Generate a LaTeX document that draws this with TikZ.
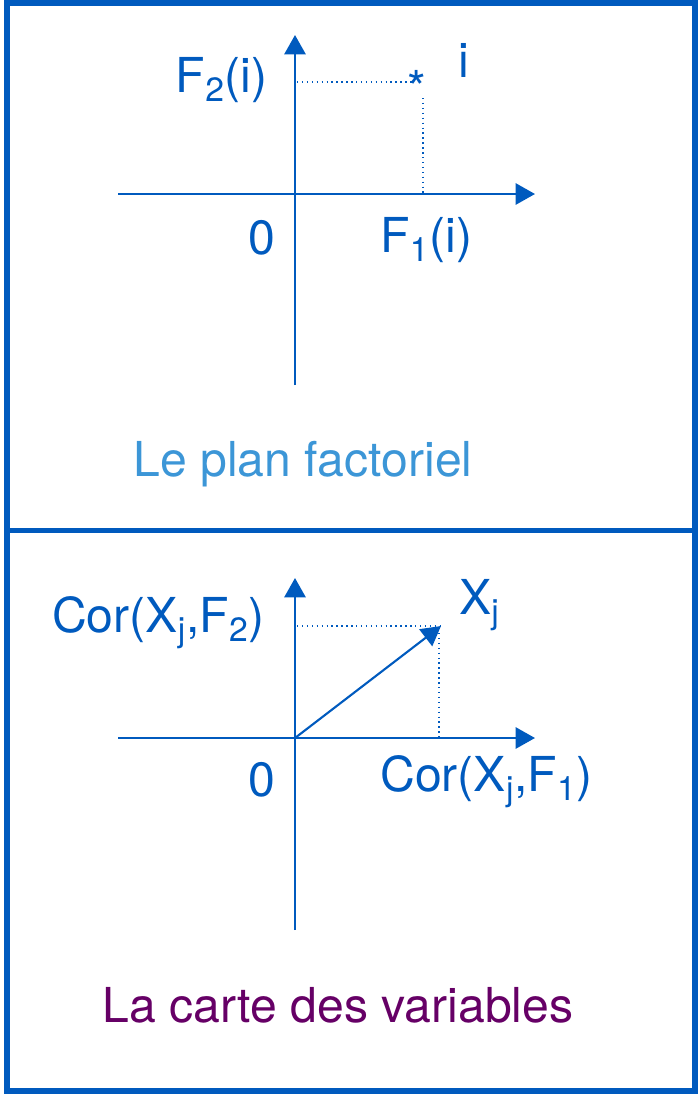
\documentclass[tikz,border=0pt]{standalone}
\usepackage{fontspec}
\setmainfont{TeX Gyre Heros}
\usetikzlibrary{arrows.meta}
\definecolor{fg}{RGB}{0,90,190}
\definecolor{titlea}{RGB}{60,150,215}
\definecolor{titleb}{RGB}{102,0,102}
\tikzset{
  frame/.style={draw=fg, line width=3.1pt},
  axis/.style={draw=fg, line width=1.4pt, -{Triangle[length=11pt,width=12pt]}},
  proj/.style={draw=fg, line width=0.8pt, dotted},
  lbl/.style={text=fg, font=\fontsize{27.4}{32}\selectfont, inner sep=0pt},
}

\begin{document}
\begin{tikzpicture}[x=0.02cm,y=-0.02cm]
        \useasboundingbox (0,0) rectangle (698,1096);
        \draw[frame] (7,3) rectangle (695,530.5);
        \draw[frame] (7,530.5) rectangle (695,1091);

        % le plan factoriel
        \coordinate (o1) at (295,194);
        \draw[axis] (295,385) -- (295,35);
        \draw[axis] (118,194) -- (535,194);
        \coordinate (pi) at (412,82);
        \node[lbl] (star) at (417,88) {*};
        \draw[proj] (297,82) -- (pi);
        \draw[proj] (423,98) -- (423,194);
        \node[lbl, anchor=east] (f2i) at (268,80) {F\textsubscript{2}(i)};
        \node[lbl, anchor=west] (ind) at (458,60) {i};
        \node[lbl] (zero1) at (262,238) {0};
        \node[lbl, anchor=west] (f1i) at (380,240) {F\textsubscript{1}(i)};
        \node[lbl, text=titlea] (title1) at (303,464) {Le plan factoriel};

        % la carte des variables
        \coordinate (o2) at (295,738);
        \draw[axis] (295,930) -- (295,578);
        \draw[axis] (118,738) -- (535,738);
        \coordinate (xj) at (441,626);
        \draw[proj] (297,626) -- (xj);
        \draw[proj] (439,628) -- (439,738);
        \draw[axis, line width=1.2pt] (o2) -- (xj);
        \node[lbl, anchor=east] (cor2) at (265,623) {Cor(X\textsubscript{j},F\textsubscript{2})};
        \node[lbl, anchor=west] (varj) at (459,605) {X\textsubscript{j}};
        \node[lbl] (zero2) at (262,780) {0};
        \node[lbl, anchor=west] (cor1) at (380,782) {Cor(X\textsubscript{j},F\textsubscript{1})};
        \node[lbl, text=titleb] (title2) at (338,1005) {La carte des variables};
\end{tikzpicture}
\end{document}
